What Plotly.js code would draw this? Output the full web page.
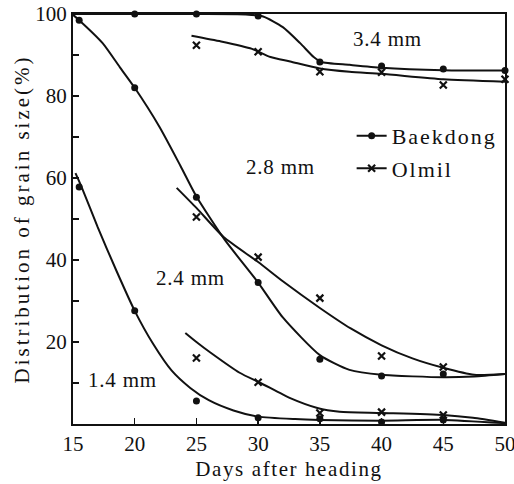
<!DOCTYPE html>
<html>
<head>
<meta charset="utf-8">
<script src="https://cdn.plot.ly/plotly-3.0.1.min.js"></script>
<style>
  html, body { margin: 0; padding: 0; background: #fff; }
  #chart { width: 514px; height: 484px; }
  .xtitle { letter-spacing: 1.6px; }
  .ytitle { letter-spacing: 3px; }
  .legendtext { letter-spacing: 2px; }
  .annotation-text { letter-spacing: 0.8px; }
</style>
</head>
<body>
<div id="chart"></div>
<script>
// ---- observed points (days after heading, % distribution) ----
const bdDays34 = [20, 25, 30, 35, 40, 45, 50];
const bd34     = [100, 100, 99.5, 88.3, 87.3, 86.6, 86.2];
const olDays34 = [25, 30, 35, 40, 45, 50];
const ol34     = [92.4, 90.8, 85.9, 85.8, 82.7, 84.1];

const bdDays28 = [15.5, 20, 25, 30, 35, 40, 45];
const bd28     = [98.5, 82, 55.3, 34.5, 15.8, 11.7, 12.2];
const olDays28 = [25, 30, 35, 40, 45];
const ol28     = [50.5, 40.7, 30.7, 16.6, 13.9];

const bdDays14 = [15.5, 20, 25, 30, 35, 40, 45];
const bd14     = [57.8, 27.6, 5.6, 1.5, 1.3, 0.5, 1.0];
const olDays14 = [25, 30, 35, 40, 45];
const ol14     = [16.1, 10.2, 2.7, 2.9, 2.2];

// ---- fitted curves ----
const bdFitX34 = [15, 25, 29, 30.4, 32, 33.4, 34.5, 35.1, 37.4, 40, 45, 50];
const bdFit34  = [100, 100, 99.9, 99.4, 96.8, 92.9, 89.5, 88.3, 87.6, 86.9, 86.3, 86.2];
const olFitX34 = [24.6, 27, 29.5, 31, 32.6, 35, 37.4, 40, 45, 50];
const olFit34  = [94.7, 93.3, 91.5, 89.5, 88.4, 86.7, 85.9, 85.4, 84.1, 83.5];

const bdFitX28 = [15, 15.5, 17.4, 18.8, 20, 22, 23.7, 25, 27.3, 30, 32, 35, 37.4, 40, 45, 47.5, 50];
const bdFit28  = [99.8, 98.5, 92.9, 87, 82, 72.5, 63, 55.5, 44.9, 34.5, 26, 16.8, 13.2, 12, 11.4, 11.6, 12.2];
const olFitX28 = [23.4, 25, 27.2, 30, 32, 35, 37.5, 40, 42.5, 45, 47.5, 50];
const olFit28  = [57.6, 52.7, 45.6, 39.5, 34.8, 28.3, 23.3, 19.2, 16, 13.7, 12, 12.2];

const bdFitX14 = [15.2, 15.7, 17, 18.5, 20, 21.5, 23, 24.5, 26, 28, 30, 33, 35, 40, 45, 50];
const bdFit14  = [61.2, 57.8, 48, 37.5, 27.6, 19.5, 13, 8.8, 5.8, 3.3, 1.8, 1.2, 1, 0.8, 1, 0.2];
const olFitX14 = [24.1, 25, 26.1, 28.5, 30.2, 32.6, 34.8, 36.6, 40, 45, 47.4, 50];
const olFit14  = [22.2, 20, 17.5, 12.5, 10, 6.3, 3.9, 3, 2.7, 2.2, 1.5, 0.3];

// ---- tick labels ----
const xTicks = [15, 20, 25, 30, 35, 40, 45, 50];
const yTicks = [10, 20, 30, 40, 50, 60, 70, 80, 90, 100];
const yTickText = ['', '20', '', '40', '', '60', '', '80', '', '100'];

const FONT = 'Liberation Serif, DejaVu Serif, serif';
const INK = '#111';

function curve(x, y) {
  return { x: x, y: y, type: 'scatter', mode: 'lines', showlegend: false, hoverinfo: 'skip',
           line: { color: INK, width: 2, shape: 'spline', smoothing: 0.6 } };
}
function dots(x, y) {
  return { x: x, y: y, type: 'scatter', mode: 'markers', showlegend: false, cliponaxis: false,
           marker: { symbol: 'circle', size: 7, color: INK } };
}
function crosses(x, y) {
  return { x: x, y: y, type: 'scatter', mode: 'markers', showlegend: false, cliponaxis: false,
           marker: { symbol: 'x-thin', size: 7, color: INK, line: { color: INK, width: 2.2 } } };
}

const traces = [
  curve(bdFitX34, bdFit34), curve(olFitX34, olFit34),
  curve(bdFitX28, bdFit28), curve(olFitX28, olFit28),
  curve(bdFitX14, bdFit14), curve(olFitX14, olFit14),
  dots(bdDays34, bd34), crosses(olDays34, ol34),
  dots(bdDays28, bd28), crosses(olDays28, ol28),
  dots(bdDays14, bd14), crosses(olDays14, ol14),
  { x: [null], y: [null], type: 'scatter', mode: 'lines+markers', name: 'Baekdong', legendgroup: 'b',
    line: { color: INK, width: 2 }, marker: { symbol: 'circle', size: 7, color: INK } },
  { x: [null], y: [null], type: 'scatter', mode: 'lines+markers', name: 'Olmil', legendgroup: 'o',
    line: { color: INK, width: 2 }, marker: { symbol: 'x-thin', size: 7, color: INK, line: { color: INK, width: 2.2 } } }
];

const layout = {
  width: 514, height: 484,
  margin: { l: 73, r: 9, t: 14, b: 60 },
  paper_bgcolor: '#fff', plot_bgcolor: '#fff',
  font: { family: FONT, color: INK, size: 20 },
  showlegend: true,
  legend: { x: 0.645, y: 0.754, xanchor: 'left', yanchor: 'top', bgcolor: 'rgba(0,0,0,0)',
            font: { family: FONT, size: 22, color: INK }, traceorder: 'grouped', tracegroupgap: 1 },
  xaxis: {
    range: [15, 50], tickvals: xTicks, ticks: 'inside', ticklen: 6, tickwidth: 1.5, tickcolor: INK,
    showline: true, linewidth: 2, linecolor: INK, mirror: true, showgrid: false, zeroline: false,
    ticklabeloverflow: 'allow',
    tickfont: { family: FONT, size: 21, color: INK },
    title: { text: 'Days after heading', font: { family: FONT, size: 21, color: INK }, standoff: 6 }
  },
  yaxis: {
    range: [0, 100], tickvals: yTicks, ticktext: yTickText, ticks: 'inside', ticklen: 6, tickwidth: 1.5, tickcolor: INK,
    showline: true, linewidth: 2, linecolor: INK, mirror: true, showgrid: false, zeroline: false,
    tickfont: { family: FONT, size: 21, color: INK },
    title: { text: 'Distribution of grain size(%)', font: { family: FONT, size: 21, color: INK }, standoff: 0 }
  },
  annotations: [
    { x: 40.5, y: 93.9, text: '3.4 mm', showarrow: false, font: { family: FONT, size: 21, color: INK } },
    { x: 31.8, y: 62.6, text: '2.8 mm', showarrow: false, font: { family: FONT, size: 21, color: INK } },
    { x: 24.5, y: 35.6, text: '2.4 mm', showarrow: false, font: { family: FONT, size: 21, color: INK } },
    { x: 19.0, y: 10.7, text: '1.4 mm', showarrow: false, font: { family: FONT, size: 21, color: INK } }
  ]
};

Plotly.newPlot('chart', traces, layout, { staticPlot: true, displayModeBar: false });
</script>
</body>
</html>
